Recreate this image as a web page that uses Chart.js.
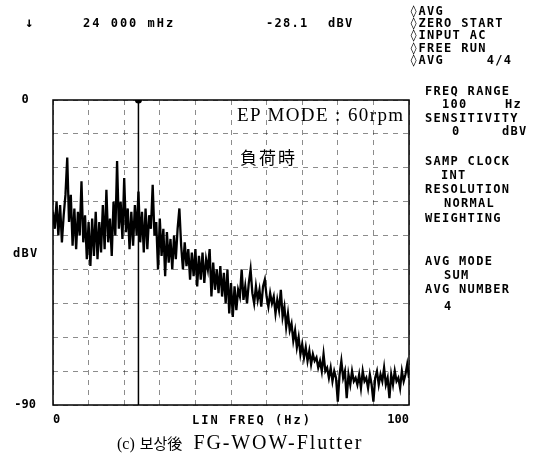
<!DOCTYPE html>
<html lang="ko">
<head>
    <meta charset="UTF-8">
    <title>FG-WOW-Flutter spectrum</title>
    <script src="https://cdn.jsdelivr.net/npm/chart.js"></script>
    <style>
        body { margin: 0; background: #fff; }
        #wrap { position: relative; width: 536px; height: 455px; overflow: hidden; }
        #wrap canvas { position: absolute; left: 0; top: 0; }
        .t {
            position: absolute;
            font: bold 12px "DejaVu Sans Mono", monospace;
            letter-spacing: 1.3px;
            line-height: 14px;
            white-space: pre;
            color: #000;
        }
        .serif { font-family: "Liberation Serif", "Noto Sans CJK KR", serif; font-weight: normal; white-space: pre; position: absolute; color: #000; }
    </style>
</head>
<body>
<div id="wrap">
    <canvas id="spec" width="536" height="455"></canvas>

    <!-- marker readout -->
    <div class="t" style="left:25px;top:15px;font-size:14px">↓</div>
    <div class="t" style="left:83px;top:16px;letter-spacing:2px">24 000 mHz</div>
    <div class="t" style="left:266px;top:16px">-28.1</div>
    <div class="t" style="left:328px;top:16px">dBV</div>

    <!-- status panel -->
    <div class="t" style="left:410px;top:4px">◊AVG</div>
    <div class="t" style="left:410px;top:16px">◊ZERO START</div>
    <div class="t" style="left:410px;top:28px">◊INPUT AC</div>
    <div class="t" style="left:410px;top:41px">◊FREE RUN</div>
    <div class="t" style="left:410px;top:53px">◊AVG     4/4</div>

    <div class="t" style="left:425px;top:84px">FREQ RANGE</div>
    <div class="t" style="left:442px;top:97px">100</div>
    <div class="t" style="left:505px;top:97px">Hz</div>
    <div class="t" style="left:425px;top:111px">SENSITIVITY</div>
    <div class="t" style="left:452px;top:124px">0</div>
    <div class="t" style="left:502px;top:124px">dBV</div>

    <div class="t" style="left:425px;top:154px">SAMP CLOCK</div>
    <div class="t" style="left:441px;top:168px">INT</div>
    <div class="t" style="left:425px;top:182px">RESOLUTION</div>
    <div class="t" style="left:444px;top:196px">NORMAL</div>
    <div class="t" style="left:425px;top:211px">WEIGHTING</div>

    <div class="t" style="left:425px;top:254px">AVG MODE</div>
    <div class="t" style="left:444px;top:268px">SUM</div>
    <div class="t" style="left:425px;top:282px">AVG NUMBER</div>
    <div class="t" style="left:444px;top:299px">4</div>

    <!-- axis captions -->
    <div class="t" style="left:13px;top:246px">dBV</div>
    <div class="t" style="left:192px;top:413px;letter-spacing:2px">LIN FREQ (Hz)</div>

    <!-- annotations -->
    <div class="serif" style="left:237px;top:104px;font-size:19px;letter-spacing:1.4px">EP MODE : 60rpm</div>
    <div class="serif" style="left:240px;top:144px;font-size:17px;letter-spacing:2px;font-family:'Noto Sans CJK JP'">負荷時</div>
    <div class="serif" style="left:117px;top:431px;font-size:20px"><span style="font-size:16px">(c)</span> <span style="font-size:15px;font-family:'Noto Sans CJK KR'">보상後</span> <span style="margin-left:6px;letter-spacing:1.9px">FG-WOW-Flutter</span></div>
</div>

<script>
    // spectrum bins, 0.5 Hz apart from 0 to 100 Hz (dBV)
    const binStepHz = 0.5;
    const levelDbv = [
        -33, -38, -30, -40, -31, -42, -34, -28, -17, -36,
        -28, -43, -32, -44, -33, -40, -24, -42, -34, -47,
        -36, -49, -35, -46, -33, -47, -36, -45, -31, -44,
        -26.5, -42, -35, -46, -30, -40, -18, -38, -30, -41,
        -23, -39, -32, -44, -33, -43, -31, -40, -27, -42,
        -33, -45, -32, -44, -34, -38, -25, -40, -36, -50,
        -35, -46, -38, -52, -39, -48, -41, -50, -40, -47,
        -38, -32, -43, -50, -42, -49, -44, -53, -45, -52,
        -44, -55, -46, -53, -45, -54, -47, -50, -44, -58,
        -48, -56, -50, -57, -49, -58, -51, -60, -50, -63,
        -54, -64, -55, -62, -56, -58, -50, -59, -55, -60,
        -54, -50, -57, -60, -55, -59, -56, -61, -55, -53,
        -58, -61, -57, -60, -58, -63, -59, -62, -56, -64,
        -61, -67, -63, -68, -66, -71, -68, -73, -70, -75,
        -72, -76, -73, -77, -74, -78, -75, -77, -76, -79,
        -77, -80, -75, -80, -79, -82, -79, -83, -80, -82,
        -89, -81, -77, -82, -80, -88, -81, -84, -80, -83,
        -82, -84, -81, -85, -80, -83, -82, -85, -81, -84,
        -89, -82, -80, -84, -81, -83, -79, -84, -82, -88,
        -81, -84, -80, -83, -82, -85, -80, -83, -81, -78,
        -82
    ];

    // marker position and axis range
    const markerHz = 24;
    const freqRange = [0, 100];
    const levelRange = [-90, 0];
    const freqLabels = [0, 100];
    const levelLabels = [0, -90];

    const tickFont = { family: "DejaVu Sans Mono", size: 12, weight: "bold" };

    // solid frame round the plot
    const framePlugin = {
        id: "frame",
        afterDatasetsDraw(chart) {
            const { ctx, chartArea: a } = chart;
            ctx.save();
            ctx.setLineDash([]);
            ctx.strokeStyle = "#000";
            ctx.lineWidth = 1.5;
            ctx.strokeRect(a.left, a.top, a.right - a.left, a.bottom - a.top);
            ctx.restore();
        }
    };

    new Chart(document.getElementById("spec"), {
        type: "line",
        data: {
            datasets: [
                {
                    data: levelDbv.map((v, i) => ({ x: i * binStepHz, y: v })),
                    borderColor: "#000",
                    borderWidth: 2.3,
                    borderJoinStyle: "miter",
                    pointRadius: 0,
                    tension: 0
                },
                {
                    // marker line with dot on top
                    data: [{ x: markerHz, y: levelRange[1] }, { x: markerHz, y: levelRange[0] }],
                    borderColor: "#000",
                    borderWidth: 1.5,
                    pointRadius: [3.5, 0],
                    pointBackgroundColor: "#000",
                    pointBorderWidth: 0
                }
            ]
        },
        options: {
            responsive: false,
            devicePixelRatio: 1,
            animation: false,
            layout: { padding: { left: 0, top: 100, right: 127, bottom: 20 } },
            plugins: { legend: { display: false }, tooltip: { enabled: false } },
            scales: {
                x: {
                    type: "linear",
                    min: freqRange[0],
                    max: freqRange[1],
                    afterFit: s => { s.height = 30; },
                    grid: { color: "rgba(0,0,0,0.45)", lineWidth: 1, drawTicks: false },
                    border: { display: false, dash: [5, 5] },
                    ticks: {
                        stepSize: 10,
                        autoSkip: false,
                        maxRotation: 0,
                        align: "inner",
                        padding: 8,
                        color: "#000",
                        font: tickFont,
                        callback: v => freqLabels.includes(v) ? String(v) : ""
                    }
                },
                y: {
                    min: levelRange[0],
                    max: levelRange[1],
                    afterFit: s => { s.width = 53; },
                    grid: { color: "rgba(0,0,0,0.45)", lineWidth: 1, drawTicks: false },
                    border: { display: false, dash: [5, 5] },
                    ticks: {
                        stepSize: 10,
                        autoSkip: false,
                        crossAlign: "center",
                        padding: 17,
                        color: "#000",
                        font: tickFont,
                        callback: v => levelLabels.includes(v) ? String(v) : ""
                    }
                }
            }
        },
        plugins: [framePlugin]
    });
</script>
</body>
</html>
